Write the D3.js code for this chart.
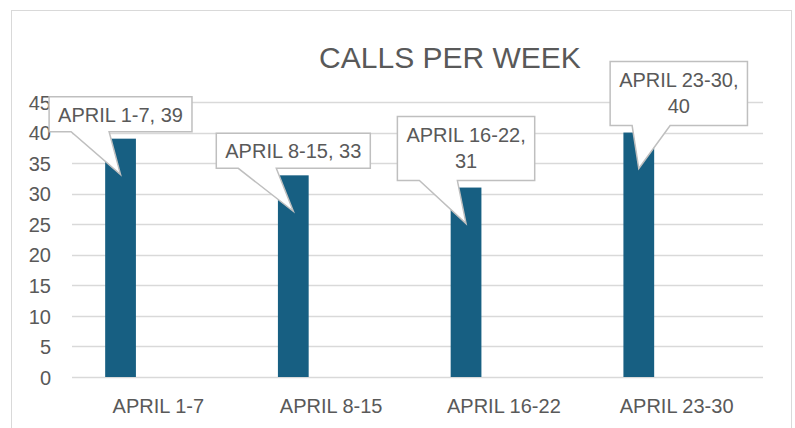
<!DOCTYPE html>
<html>
<head>
<meta charset="utf-8">
<script src="https://cdn.jsdelivr.net/npm/d3@7"></script>
<style>
  body { margin: 0; background: #fff; }
  text { font-family: "Liberation Sans", Arial, sans-serif; fill: #595959; }
</style>
</head>
<body>
<svg width="795" height="428"></svg>
<script>
var weeks = ["APRIL 1-7", "APRIL 8-15", "APRIL 16-22", "APRIL 23-30"];
var calls = [39, 33, 31, 40];
var yTicks = [0, 5, 10, 15, 20, 25, 30, 35, 40, 45];
var title = "CALLS PER WEEK";

// callout tweaks (the last one was dragged to the right in the original)
var calloutShift = [0, 0, 0, 40];
var maxLabelWidth = 142;

var svg = d3.select("svg"),
    width = +svg.attr("width"),
    height = +svg.attr("height"),
    margin = {top: 102, right: 32, bottom: 51, left: 72};

svg.append("rect")
    .attr("x", 11.5).attr("y", 10.5)
    .attr("width", 780).attr("height", 430)
    .attr("fill", "#fff")
    .attr("stroke", "#d9d9d9");

svg.append("text")
    .attr("x", 450).attr("y", 68)
    .attr("text-anchor", "middle")
    .style("font-size", "30px")
    .text(title);

var x = d3.scaleBand()
    .domain(weeks)
    .range([margin.left, width - margin.right]);

var y = d3.scaleLinear()
    .domain([0, 45])
    .range([height - margin.bottom, margin.top]);

// gridlines
svg.append("g")
    .selectAll("line")
    .data(yTicks)
    .enter().append("line")
      .attr("x1", margin.left)
      .attr("x2", width - margin.right)
      .attr("y1", function(d) { return Math.round(y(d)) + 0.5; })
      .attr("y2", function(d) { return Math.round(y(d)) + 0.5; })
      .attr("stroke", "#d9d9d9")
      .attr("stroke-width", 1.5);

// y axis labels
var yAxis = svg.append("g")
    .attr("transform", "translate(" + (margin.left - 21) + ",0)")
    .call(d3.axisLeft(y).tickValues(yTicks).tickSize(0).tickPadding(0));
yAxis.select(".domain").remove();
yAxis.selectAll("text")
    .style("font-size", "20px")
    .attr("fill", "#595959")
    .attr("dy", "0.36em");

// x axis labels
var xAxis = svg.append("g")
    .attr("transform", "translate(0," + (height - margin.bottom) + ")")
    .call(d3.axisBottom(x).tickSize(0).tickPadding(0));
xAxis.select(".domain").remove();
xAxis.selectAll("text")
    .style("font-size", "20px")
    .attr("fill", "#595959")
    .attr("dy", "36px");

// bars sit left of the band centre, like an Excel clustered column with an empty second series
function barX(d, i) { return x(weeks[i]) + x.bandwidth() * 0.192; }
var barW = x.bandwidth() * 0.178;

svg.append("g")
    .selectAll("rect")
    .data(calls)
    .enter().append("rect")
      .attr("x", barX)
      .attr("y", function(d) { return y(d); })
      .attr("width", barW)
      .attr("height", function(d) { return y(0) - y(d); })
      .attr("fill", "#175f82");

// callout data labels
var callouts = svg.append("g")
    .selectAll("g")
    .data(calls)
    .enter().append("g");

callouts.each(function(d, i) {
  var g = d3.select(this),
      cx = barX(d, i) + barW / 2,
      full = weeks[i] + ", " + d,
      path = g.append("path"),
      txt = g.append("text")
        .attr("text-anchor", "middle")
        .style("font-size", "20px");

  var probe = txt.text(full).node().getComputedTextLength();
  var lines = probe > maxLabelWidth ? [weeks[i] + ",", String(d)] : [full];
  txt.text(null);

  var lineH = 26,
      boxCx = cx + calloutShift[i],
      bottom = y(d) - 7,
      boxH = lines.length === 1 ? 35 : 64,
      top = bottom - boxH;

  lines.forEach(function(l, k) {
    txt.append("tspan")
      .attr("x", boxCx)
      .attr("y", top + 25 + k * lineH)
      .text(l);
  });

  var w = d3.max(txt.selectAll("tspan").nodes(), function(n) { return n.getComputedTextLength(); }) + 18,
      left = boxCx - w / 2,
      right = boxCx + w / 2,
      tipY = y(d) + 36;

  path.attr("d", "M" + left + "," + top + "H" + right + "V" + bottom +
                 "H" + (left + 60) + "L" + cx + "," + tipY +
                 "L" + (left + 22) + "," + bottom + "H" + left + "Z")
      .attr("fill", "#fff")
      .attr("stroke", "#bfbfbf")
      .attr("stroke-width", 1.5);
});
</script>
</body>
</html>
